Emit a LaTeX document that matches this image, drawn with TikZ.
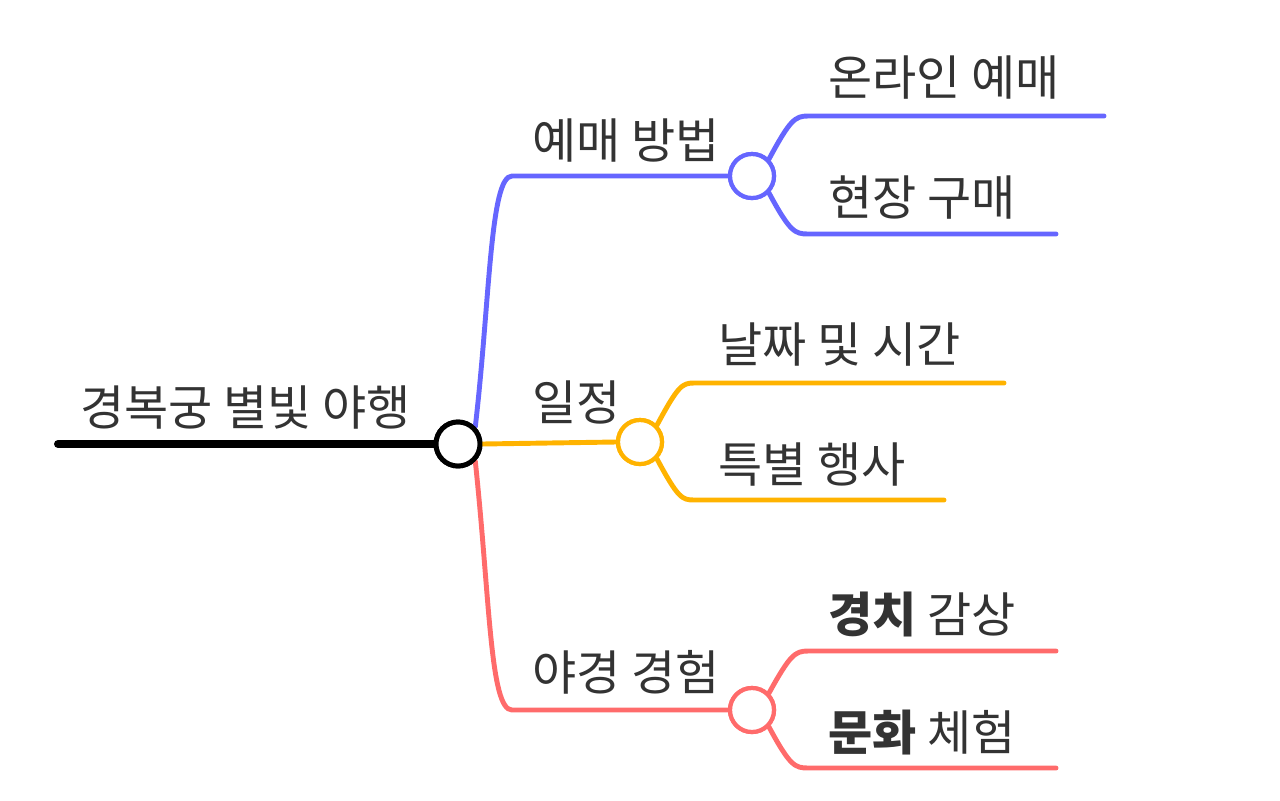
\documentclass[tikz,border=0pt]{standalone}
\usepackage{fontspec}
\setmainfont{Noto Sans CJK KR}
\usetikzlibrary{positioning}
\definecolor{bluebr}{HTML}{6666FF}
\definecolor{yellowbr}{HTML}{FFB300}
\definecolor{redbr}{HTML}{FF6B6B}
\definecolor{txt}{HTML}{333333}
\newcommand{\cliplabel}[5]{% name, x, baseline y, clip x, text
  \begin{scope}
    \clip (#2-5,#3-80) rectangle (#4,#3+30);
    \node[label text] (#1) at (#2,#3) {#5};
  \end{scope}}
\begin{document}
\begin{tikzpicture}[x=0.03cm,y=-0.03cm,line cap=round,
      label text/.style={anchor=base west,inner sep=0pt,text=txt,font=\fontsize{41}{41}\selectfont},
      hub/.style={circle,draw,fill=white,minimum size=38\pgflinewidth,inner sep=0pt},
      branch/.style={line width=4.2pt,#1}]

      \useasboundingbox (0,0) rectangle (1280,800);

      % root
      \coordinate (start) at (58,444);
      \node[hub,draw=black,line width=4.2pt,minimum size=1.32cm] (root) at (458,444) {};
      \draw[line width=6.8pt] (start) -- (root.west);
      \cliplabel{roottext}{80}{425}{440}{경복궁 별빛 야행}

      % branch hubs
      \node[hub,draw=bluebr,line width=3.6pt,minimum size=1.32cm] (plan) at (752,176) {};
      \node[hub,draw=yellowbr,line width=3.6pt,minimum size=1.32cm] (sched) at (640,442) {};
      \node[hub,draw=redbr,line width=3.6pt,minimum size=1.32cm] (night) at (752,710) {};

      % leaf ends
      \coordinate (online) at (1104,116);
      \coordinate (onsite) at (1056,234);
      \coordinate (date) at (1004,383);
      \coordinate (event) at (944,500);
      \coordinate (view) at (1056,651);
      \coordinate (culture) at (1056,768);

      % branches
      \begin{scope}[on background layer/.try]
      \draw[branch=bluebr] (root.north east) .. controls (490,300) and (490,176) .. (512,176) -- (plan.west);
      \draw[branch=yellowbr] (root.east) -- (sched.west);
      \draw[branch=redbr] (root.south east) .. controls (490,600) and (490,710) .. (512,710) -- (night.west);
      \end{scope}

      \draw[branch=bluebr] (plan.north east) .. controls (790,120) and (795,116) .. (808,116) -- (online);
      \draw[branch=bluebr] (plan.south east) .. controls (790,232) and (795,234) .. (808,234) -- (onsite);
      \draw[branch=yellowbr] (sched.north east) .. controls (678,386) and (682,383) .. (694,383) -- (date);
      \draw[branch=yellowbr] (sched.south east) .. controls (678,498) and (682,500) .. (694,500) -- (event);
      \draw[branch=redbr] (night.north east) .. controls (790,655) and (795,651) .. (808,651) -- (view);
      \draw[branch=redbr] (night.south east) .. controls (790,766) and (795,768) .. (808,768) -- (culture);

      % redraw hubs on top
      \node[hub,draw=black,line width=4.2pt,minimum size=1.32cm] at (root) {};
      \node[hub,draw=bluebr,line width=3.6pt,minimum size=1.32cm] at (plan) {};
      \node[hub,draw=yellowbr,line width=3.6pt,minimum size=1.32cm] at (sched) {};
      \node[hub,draw=redbr,line width=3.6pt,minimum size=1.32cm] at (night) {};

      % labels
      \cliplabel{plantext}{532}{158}{738}{예매 방법}
      \cliplabel{schedtext}{532}{420}{640}{일정}
      \cliplabel{nighttext}{532}{690}{738}{야경 경험}
      \cliplabel{onlinetext}{828}{95}{1083}{온라인 예매}
      \cliplabel{onsitetext}{828}{215}{1034}{현장 구매}
      \cliplabel{datetext}{718}{362}{985}{날짜 및 시간}
      \cliplabel{eventtext}{718}{482}{920}{특별 행사}
      \cliplabel{viewtext}{828}{632}{1034}{\textbf{경치} 감상}
      \cliplabel{culturetext}{828}{750}{1034}{\textbf{문화} 체험}
    \end{tikzpicture}
\end{document}
